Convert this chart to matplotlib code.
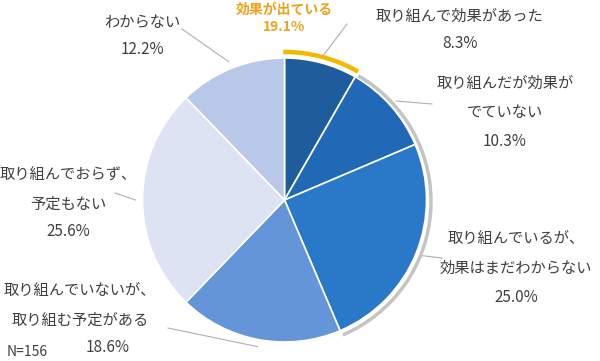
import numpy as np
import matplotlib.pyplot as plt
from matplotlib.patches import Arc

plt.rcParams['font.family'] = ['Noto Sans CJK JP', 'DejaVu Sans']

# data
labels = ["取り組んで効果があった",
          "取り組んだが効果が\nでていない",
          "取り組んでいるが、\n効果はまだわからない",
          "取り組んでいないが、\n取り組む予定がある",
          "取り組んでおらず、\n予定もない",
          "わからない"]
values = [8.3, 10.3, 25.0, 18.6, 25.6, 12.2]
colors = ["#1f5c9b", "#2168b6", "#2a79c9", "#6495d9", "#dde3f3", "#b9c8e8"]
effect_label = "効果が出ている"
effect_value = 19.1
n_total = 156

# layout in pixels (top-left origin)
W, H = 600, 361
cx, cy, R = 284.5, 200, 142
name_pos = [(459, 16), (505, 83), (516, 239), (80, 291), (68, 175), (142, 22)]
pct_pos = [(460, 44), (505, 142), (516, 297), (108, 348), (68, 232), (142, 49)]
leader_end = [(347, 24), (432, 104), (442, 258), (168, 328), (115, 193), (182, 29)]
line_gap = 29
text_color = "#404040"

fig = plt.figure(figsize=(W / 100, H / 100), dpi=100)
ax = fig.add_axes([0, 0, 1, 1])

wedges, _ = ax.pie(values, colors=colors, startangle=90, counterclock=False,
                   center=(cx, H - cy), radius=R,
                   wedgeprops=dict(edgecolor="white", linewidth=1.2))
ax.set_xlim(0, W)
ax.set_ylim(0, H)
ax.set_aspect("equal")
ax.axis("off")

# angles of the slices
frac = np.array(values) / sum(values)
edges = 90 - 360 * np.concatenate([[0], np.cumsum(frac)])
mids = (edges[:-1] + edges[1:]) / 2

# grey shade arc along slices 2-3, yellow arc over slice 1
ax.add_patch(Arc((cx + 1.5, H - cy - 1.5), 2 * (R + 3), 2 * (R + 3),
                 theta1=edges[3], theta2=edges[1], color="#c4c4c4", lw=2.5))
ax.add_patch(Arc((cx, H - cy), 2 * (R + 6), 2 * (R + 6),
                 theta1=edges[1], theta2=edges[0] + 0.5, color="#f5b800", lw=3.2))

for i, (name, v) in enumerate(zip(labels, values)):
    a = np.deg2rad(mids[i])
    x0 = cx + 1.05 * R * np.cos(a)
    y0 = H - cy + 1.05 * R * np.sin(a)
    ex, ey = leader_end[i]
    ax.plot([x0, ex], [y0, H - ey], color="#b0b0b0", lw=0.8)
    nx, ny = name_pos[i]
    for k, line in enumerate(name.split("\n")):
        ax.text(nx, H - (ny + k * line_gap), line, ha="center", va="center",
                fontsize=11, color=text_color)
    px, py = pct_pos[i]
    ax.text(px, H - py, f"{v:.1f}%", ha="center", va="center",
            fontsize=11, color=text_color)

ax.text(cx, H - 10, effect_label, ha="center", va="center", fontsize=10,
        fontweight="bold", color="#eda21c")
ax.text(cx, H - 27, f"{effect_value}%", ha="center", va="center", fontsize=10,
        fontweight="bold", color="#eda21c")
ax.text(27, H - 352, f"N={n_total}", ha="center", va="center", fontsize=10,
        color=text_color)

fig.savefig("out.png", dpi=100)
